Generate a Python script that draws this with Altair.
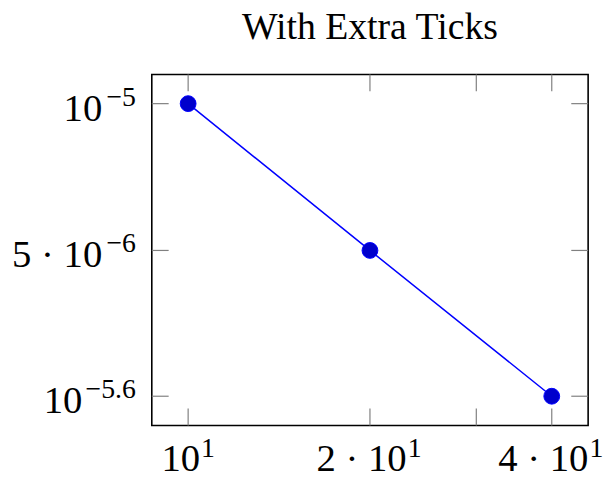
import altair as alt
import pandas as pd

# ---- data ----
x_vals = [10, 20, 40]
y_vals = [1e-5, 5e-6, 2.512e-6]
x_tick_vals = [10, 20, 30, 40]
x_label_vals = [10, 20, 40]
x_label_base = ["10", "2 · 10", "4 · 10"]
x_label_exp = ["1", "1", "1"]
y_tick_vals = [1e-5, 5e-6, 2.512e-6]
y_label_base = ["10", "5 · 10", "10"]
y_label_exp = ["−5", "−6", "−5.6"]
title_text = ["With Extra Ticks"]

# ---- style ----
W, H = 440, 354
FONT = "Liberation Serif"
BASE_FS = 39
EXP_FS = 28
TICK = 17
TICK_COLOR = "#808080"
x_label_dx = [12, 37, 37]
y_label_base_x = [-50, -50, -70]

xs = alt.Scale(type="log", domain=[8.706, 45.95], nice=False, zero=False)
ys = alt.Scale(type="log", domain=[2.188e-6, 1.148e-5], nice=False, zero=False)
X = alt.X("x:Q", scale=xs, axis=None)
Y = alt.Y("y:Q", scale=ys, axis=None)

series = pd.DataFrame({"x": x_vals, "y": y_vals})
line = alt.Chart(series).mark_line(color="#0000ff", strokeWidth=1.5).encode(X, Y)
pts = alt.Chart(series).mark_circle(
    size=254, color="#0000cc", stroke="#0000ff", strokeWidth=1, opacity=1
).encode(X, Y)

xt = pd.DataFrame({"x": x_tick_vals})
yt = pd.DataFrame({"y": y_tick_vals})
rule = dict(color=TICK_COLOR, strokeWidth=1.2)
xtick_b = alt.Chart(xt).mark_rule(**rule).encode(X, y=alt.value(H), y2=alt.value(H - TICK))
xtick_t = alt.Chart(xt).mark_rule(**rule).encode(X, y=alt.value(0), y2=alt.value(TICK))
ytick_l = alt.Chart(yt).mark_rule(**rule).encode(Y, x=alt.value(0), x2=alt.value(TICK))
ytick_r = alt.Chart(yt).mark_rule(**rule).encode(Y, x=alt.value(W), x2=alt.value(W - TICK))

labels = []
for v, b, e, d in zip(x_label_vals, x_label_base, x_label_exp, x_label_dx):
    df = pd.DataFrame({"x": [v], "b": [b], "e": [e]})
    labels.append(alt.Chart(df).mark_text(
        font=FONT, fontSize=BASE_FS, align="right", baseline="alphabetic", dx=d, dy=46, color="black"
    ).encode(X, y=alt.value(H), text="b:N"))
    labels.append(alt.Chart(df).mark_text(
        font=FONT, fontSize=EXP_FS, align="left", baseline="alphabetic", dx=d + 1, dy=32, color="black"
    ).encode(X, y=alt.value(H), text="e:N"))

for v, b, e, r in zip(y_tick_vals, y_label_base, y_label_exp, y_label_base_x):
    df = pd.DataFrame({"y": [v], "b": [b], "e": [e]})
    labels.append(alt.Chart(df).mark_text(
        font=FONT, fontSize=BASE_FS, align="right", baseline="alphabetic", dy=17, color="black"
    ).encode(Y, x=alt.value(r), text="b:N"))
    labels.append(alt.Chart(df).mark_text(
        font=FONT, fontSize=EXP_FS, align="right", baseline="alphabetic", dy=2, color="black"
    ).encode(Y, x=alt.value(-16), text="e:N"))

title = alt.Chart(pd.DataFrame({"t": title_text})).mark_text(
    font=FONT, fontSize=38, align="center", baseline="alphabetic", color="black"
).encode(x=alt.value(W / 2), y=alt.value(-36), text="t:N")

chart = alt.layer(
    xtick_b, xtick_t, ytick_l, ytick_r, line, pts, *labels, title
).properties(
    width=W,
    height=H,
    autosize=alt.AutoSizeParams(type="none"),
    padding={"left": 145, "top": 65, "right": 16, "bottom": 52},
).configure_view(stroke="black", strokeWidth=1.6)

chart.save("out.html", embed_options={"renderer": "svg", "actions": False})
